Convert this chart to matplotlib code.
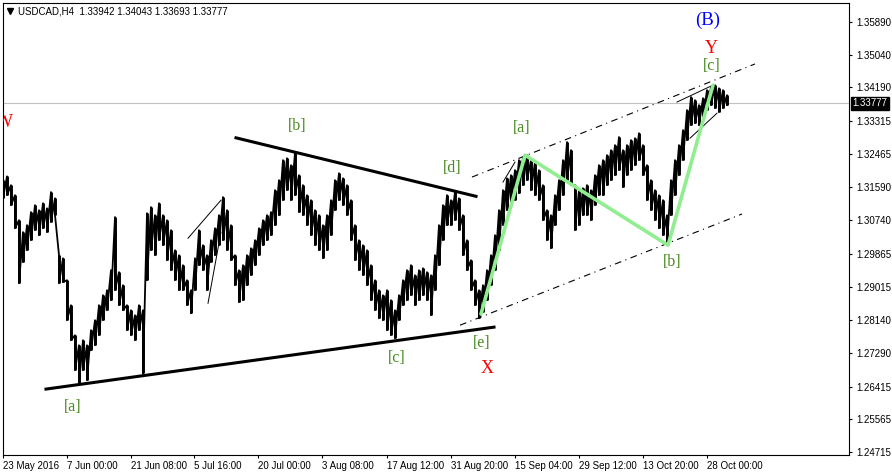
import matplotlib
matplotlib.use('Agg')
import matplotlib.pyplot as plt
import numpy as np

SYMBOL = 'USDCAD,H4'
LAST_OHLC = [1.33942, 1.34043, 1.33693, 1.33777]
LAST_PRICE = 1.33777

# price, one sample every 4 H4 bars
BAR_STEP = 4
highs = [
    1.3178, 1.3188, 1.3165, 1.3139, 1.3074, 1.3043, 1.3061, 1.3095, 1.3113, 1.3100,
    1.3118, 1.3105, 1.3147, 1.3131, 1.2983, 1.2975, 1.2918, 1.2853, 1.2775, 1.2749,
    1.2762, 1.2749, 1.2788, 1.2814, 1.2853, 1.2879, 1.2892, 1.2944, 1.3082, 1.2939,
    1.2905, 1.2853, 1.2840, 1.2827, 1.2853, 1.2840, 1.3092, 1.3108, 1.3087, 1.3118,
    1.3087, 1.3074, 1.3048, 1.2996, 1.2983, 1.2957, 1.2918, 1.2892, 1.2975, 1.3048,
    1.3009, 1.2983, 1.3022, 1.3053, 1.3087, 1.3134, 1.3100, 1.3061, 1.2983, 1.2944,
    1.2957, 1.2983, 1.3001, 1.3022, 1.3053, 1.3074, 1.3087, 1.3095, 1.3152, 1.3178,
    1.3230, 1.3235, 1.3217, 1.3248, 1.3191, 1.3165, 1.3139, 1.3126, 1.3100, 1.3087,
    1.3061, 1.3087, 1.3126, 1.3178, 1.3196, 1.3183, 1.3165, 1.3126, 1.3061, 1.3022,
    1.3009, 1.2996, 1.2957, 1.2918, 1.2892, 1.2879, 1.2892, 1.2866, 1.2840, 1.2879,
    1.2918, 1.2944, 1.2957, 1.2931, 1.2944, 1.2949, 1.2939, 1.2931, 1.2983, 1.3061,
    1.3113, 1.3139, 1.3126, 1.3147, 1.3131, 1.3087, 1.3022, 1.2970, 1.2918, 1.2892,
    1.2905, 1.2944, 1.2983, 1.3035, 1.3100, 1.3152, 1.3183, 1.3191, 1.3204, 1.3230,
    1.3238, 1.3243, 1.3230, 1.3225, 1.3204, 1.3165, 1.3100, 1.3087, 1.3139, 1.3178,
    1.3230, 1.3277, 1.3256, 1.3165, 1.3152, 1.3157, 1.3165, 1.3152, 1.3191, 1.3217,
    1.3230, 1.3243, 1.3256, 1.3269, 1.3290, 1.3256, 1.3269, 1.3282, 1.3287, 1.3300,
    1.3269, 1.3217, 1.3178, 1.3152, 1.3139, 1.3126, 1.3087, 1.3178, 1.3230, 1.3269,
    1.3308, 1.3360, 1.3394, 1.3386, 1.3373, 1.3391, 1.3412, 1.3420, 1.3425, 1.3417,
    1.3412, 1.3399,
]
lows = [
    1.3131, 1.3139, 1.3113, 1.3053, 1.2910, 1.2965, 1.2996, 1.3022, 1.3048, 1.3035,
    1.3053, 1.3043, 1.3069, 1.3087, 1.2910, 1.2913, 1.2814, 1.2762, 1.2684, 1.2650,
    1.2684, 1.2658, 1.2736, 1.2749, 1.2775, 1.2814, 1.2840, 1.2866, 1.2892, 1.2853,
    1.2840, 1.2788, 1.2775, 1.2762, 1.2788, 1.2676, 1.2918, 1.2996, 1.2983, 1.3022,
    1.3009, 1.2970, 1.2944, 1.2918, 1.2892, 1.2892, 1.2853, 1.2832, 1.2892, 1.2957,
    1.2944, 1.2892, 1.2965, 1.2983, 1.3009, 1.3022, 1.2996, 1.2970, 1.2905, 1.2861,
    1.2866, 1.2905, 1.2931, 1.2957, 1.2983, 1.3009, 1.3022, 1.3035, 1.3061, 1.3087,
    1.3126, 1.3152, 1.3126, 1.3139, 1.3095, 1.3087, 1.3061, 1.3035, 1.3009, 1.2996,
    1.2975, 1.2996, 1.3035, 1.3100, 1.3126, 1.3113, 1.3087, 1.3022, 1.2970, 1.2944,
    1.2931, 1.2905, 1.2866, 1.2840, 1.2819, 1.2814, 1.2788, 1.2775, 1.2767, 1.2814,
    1.2853, 1.2866, 1.2879, 1.2853, 1.2866, 1.2879, 1.2866, 1.2827, 1.2892, 1.2957,
    1.3022, 1.3061, 1.3061, 1.3074, 1.3048, 1.2983, 1.2944, 1.2892, 1.2853, 1.2819,
    1.2835, 1.2866, 1.2905, 1.2944, 1.2996, 1.3061, 1.3100, 1.3113, 1.3126, 1.3144,
    1.3165, 1.3178, 1.3152, 1.3139, 1.3126, 1.3074, 1.3022, 1.3001, 1.3061, 1.3100,
    1.3139, 1.3178, 1.3165, 1.3048, 1.3061, 1.3087, 1.3087, 1.3074, 1.3113, 1.3139,
    1.3139, 1.3165, 1.3178, 1.3191, 1.3204, 1.3160, 1.3191, 1.3204, 1.3217, 1.3230,
    1.3191, 1.3126, 1.3100, 1.3074, 1.3053, 1.3035, 1.3009, 1.3087, 1.3139, 1.3191,
    1.3230, 1.3282, 1.3321, 1.3326, 1.3321, 1.3339, 1.3360, 1.3373, 1.3365, 1.3355,
    1.3365, 1.3373,
]

price_ticks = [1.35890, 1.35040, 1.34190, 1.33315, 1.32465, 1.31590, 1.30740,
               1.29865, 1.29015, 1.28140, 1.27290, 1.26415, 1.25565, 1.24715]
date_labels = ['23 May 2016', '7 Jun 00:00', '21 Jun 08:00', '5 Jul 16:00',
               '20 Jul 00:00', '3 Aug 08:00', '17 Aug 12:00', '31 Aug 20:00',
               '15 Sep 04:00', '29 Sep 12:00', '13 Oct 20:00', '28 Oct 00:00']
date_bars = [0, 64, 128, 191, 255, 319, 384, 448, 512, 576, 640, 704]

# hand drawn objects on the chart: (bars, prices)
triangle_lower = ([43, 491], [1.2635, 1.2796])
triangle_upper = ([233, 473], [1.3288, 1.3136])
channel_lower = ([457, 739], [1.2801, 1.3090])
channel_upper = ([469, 752], [1.3186, 1.3480])
thin_lines = [([185, 218], [1.3027, 1.3126]),
              ([205, 218], [1.2858, 1.3043]),
              ([500, 512], [1.3173, 1.3225]),
              ([674, 710], [1.3381, 1.3425]),
              ([687, 714], [1.3287, 1.3352])]
wave_bars = [478, 522, 665, 710]
wave_prices = [1.2830, 1.3243, 1.3009, 1.3425]

GREEN = '#4a8a22'
wave_labels = [
    ('[a]', 70, 1.2588, GREEN, 11.5),
    ('[b]', 294, 1.3318, GREEN, 11.5),
    ('[c]', 394, 1.2715, GREEN, 11.5),
    ('[d]', 449, 1.3209, GREEN, 11.5),
    ('[e]', 479, 1.2754, GREEN, 11.5),
    ('X', 484, 1.2689, 'red', 13),
    ('[a]', 519, 1.3313, GREEN, 11.5),
    ('[b]', 669, 1.2965, GREEN, 11.5),
    ('[c]', 709, 1.3474, GREEN, 11.5),
    ('Y', 708, 1.3519, 'red', 13),
    ('(B)', 705, 1.3594, 'blue', 13.5),
    ('W', 1.5, 1.3329, 'red', 13),
]

W, H = 892, 476
UI_FONT = 'Liberation Sans'


def main():
    fig = plt.figure(figsize=(W / 100, H / 100), dpi=100)
    ax = fig.add_axes([3 / W, 21 / H, 846 / W, 452 / H])
    ax.set_xlim(0, 846)
    ax.set_ylim(1.24637, 1.36384)

    # current price line
    ax.axhline(LAST_PRICE, color='#c0c0c0', lw=0.8, zorder=1)

    # bars: high-low sticks joined low -> next high, like a dense H4 chart
    bars = np.arange(len(highs)) * BAR_STEP
    ax.vlines(bars, lows, highs, color='black', lw=2.1, zorder=3)
    zig_x = np.repeat(bars, 2)
    zig_y = np.column_stack([highs, lows]).ravel()
    ax.plot(zig_x, zig_y, color='black', lw=1.3, zorder=3)

    for xs, ys in [triangle_lower, triangle_upper]:
        ax.plot(xs, ys, color='black', lw=2.2, zorder=4)
    for xs, ys in [channel_lower, channel_upper]:
        ax.plot(xs, ys, color='black', lw=0.8, ls=(0, (6, 4, 1, 4)), zorder=4)
    for xs, ys in thin_lines:
        ax.plot(xs, ys, color='black', lw=0.7, zorder=4)
    ax.plot(wave_bars, wave_prices, color='#90ee90', lw=2.6, zorder=5,
            solid_capstyle='round')

    for txt, bx, py, col, size in wave_labels:
        ax.text(bx, py, txt, color=col, fontsize=size, family='Liberation Serif',
                ha='center', va='center', zorder=6, clip_on=True)

    # axes look
    for sp in ax.spines.values():
        sp.set_linewidth(0.8)
    ax.yaxis.tick_right()
    ax.set_yticks(price_ticks)
    ax.set_yticklabels(['%.5f' % p for p in price_ticks], fontsize=7,
                       family=UI_FONT)
    ax.set_xticks(date_bars)
    ax.set_xticklabels(date_labels, fontsize=7, family=UI_FONT, ha='left')
    ax.tick_params(axis='both', direction='out', length=2.5, width=0.8,
                   pad=2.5)
    ax.tick_params(axis='x', pad=2)

    # price tag for the last price
    ax.text(1.004, LAST_PRICE, '%.5f' % LAST_PRICE, color='white', fontsize=7,
            family=UI_FONT, va='center', ha='left',
            transform=ax.get_yaxis_transform(),
            bbox=dict(facecolor='black', edgecolor='black', pad=1.2))

    # header
    ax.plot([6.5 / 846], [(452 - 8) / 452], marker='v', color='black',
            markersize=4, transform=ax.transAxes, clip_on=False)
    header = '%s  %s' % (SYMBOL, ' '.join('%.5f' % v for v in LAST_OHLC))
    fig.text(18 / W, 1 - 11 / H, header, fontsize=7, family=UI_FONT,
             va='center', ha='left')

    fig.savefig('out.png', dpi=100, facecolor='white')


if __name__ == '__main__':
    main()
